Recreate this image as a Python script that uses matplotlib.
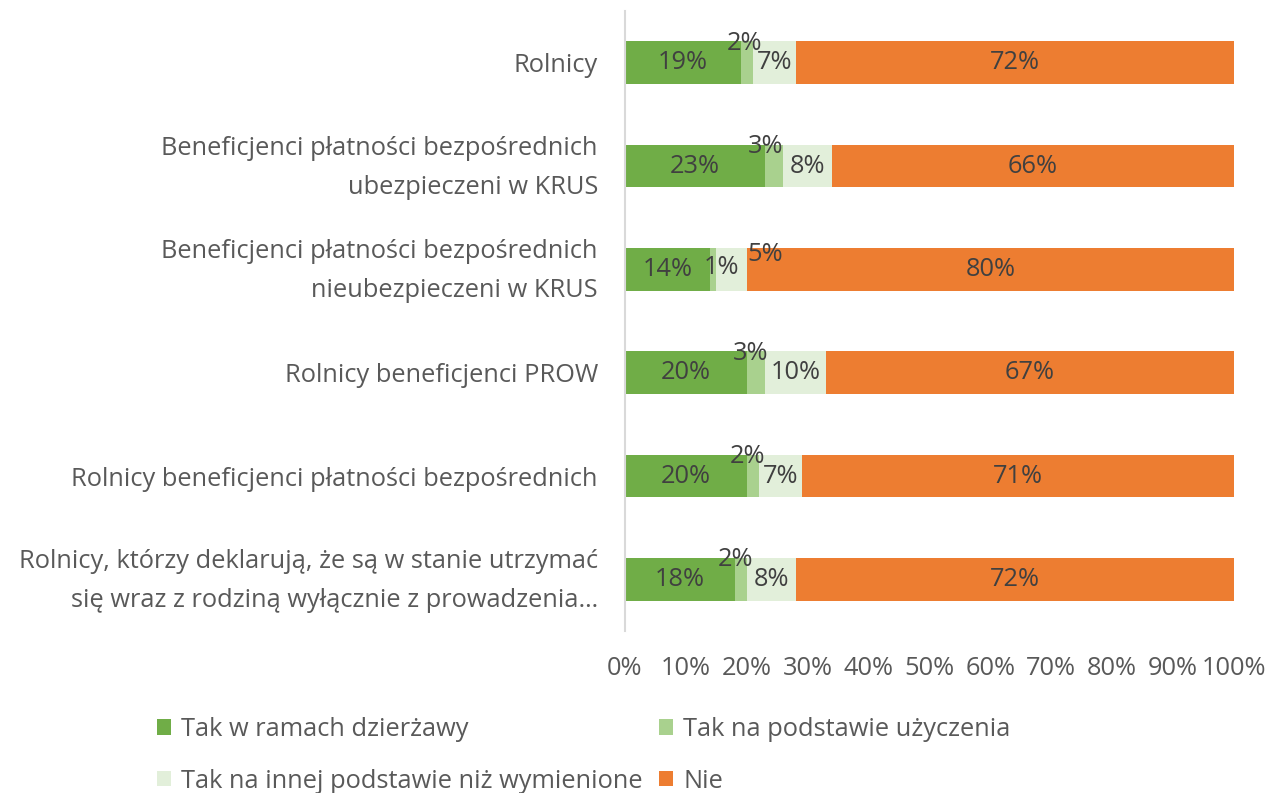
import matplotlib
matplotlib.use("Agg")
import matplotlib.pyplot as plt
import matplotlib.transforms as mtransforms
import numpy as np

plt.rcParams['font.family'] = ['Open Sans', 'DejaVu Sans']

categories = [
    "Rolnicy",
    "Beneficjenci płatności bezpośrednich\nubezpieczeni w KRUS",
    "Beneficjenci płatności bezpośrednich\nnieubezpieczeni w KRUS",
    "Rolnicy beneficjenci PROW",
    "Rolnicy beneficjenci płatności bezpośrednich",
    "Rolnicy, którzy deklarują, że są w stanie utrzymać\nsię wraz z rodziną wyłącznie z prowadzenia…",
]
series_names = ["Tak w ramach dzierżawy", "Tak na podstawie użyczenia",
                "Tak na innej podstawie niż wymienione", "Nie"]
dzierzawa = [19, 23, 14, 20, 20, 18]
uzyczenie = [2, 3, 1, 3, 2, 2]
inna = [7, 8, 5, 10, 7, 8]
nie = [72, 66, 80, 67, 71, 72]
xticks = [0, 10, 20, 30, 40, 50, 60, 70, 80, 90, 100]
xtick_labels = [f"{t}%" for t in xticks]

colors = ["#70AD47", "#A9D18E", "#E2EFDA", "#ED7D31"]
label_color = "#404040"
fs = 18.3

fig = plt.figure(figsize=(12.68, 7.93), dpi=100)
ax = fig.add_axes([625/1268, 1-631/793, 609/1268, 620/793])

series = [dzierzawa, uzyczenie, inna, nie]
y = np.arange(len(categories))
left = np.zeros(len(categories))
handles = []
# label offsets (points) for small segments
offsets = {
    (1, 0): (-2, 14), (1, 1): (-6, 14), (1, 2): (6, 1), (1, 3): (-4, 14), (1, 4): (-4, 14), (1, 5): (-4, 14),
    (2, 2): (24, 11),
}
for si, vals in enumerate(series):
    b = ax.barh(y, vals, left=left, height=0.41, color=colors[si], label=series_names[si])
    handles.append(b)
    for i, v in enumerate(vals):
        cx = left[i] + v / 2
        dx, dy = offsets.get((si, i), (0, 0))
        ax.annotate(f"{v}%", (cx, i), xytext=(dx, dy), textcoords="offset points",
                    ha="center", va="center", fontsize=fs, color=label_color)
    left = left + np.array(vals)

ax.set_xlim(0, 100)
ax.set_ylim(len(categories) - 0.5, -0.5)
ax.set_yticks(y)
ax.set_yticklabels([])
# category labels drawn as text next to the axis
blend = mtransforms.blended_transform_factory(ax.transAxes, ax.transData)
for i, cat in enumerate(categories):
    multi = "\n" in cat
    dy = -0.02 if multi else 0
    tr = blend + mtransforms.ScaledTranslation(-19.5 / 72, dy, fig.dpi_scale_trans)
    ax.text(0, i, cat, transform=tr, ha="right",
            va="center" if multi else "center_baseline", fontsize=fs,
            color="#595959", linespacing=1.72)
ax.set_xticks(xticks)
ax.set_xticklabels(xtick_labels, fontsize=fs, color="#595959")
ax.tick_params(axis='both', length=0)
ax.tick_params(axis='x', pad=18)
for s in ["top", "right", "bottom"]:
    ax.spines[s].set_visible(False)
ax.spines["left"].set_color("#D9D9D9")
ax.spines["left"].set_linewidth(1.5)

order = [0, 2, 1, 3]
fig.legend(handles=[handles[k] for k in order], labels=[series_names[k] for k in order],
           loc="upper left", bbox_to_anchor=(157/1268, 1-717/793), ncol=2, frameon=False,
           borderpad=0, borderaxespad=0,
           fontsize=fs, handlelength=0.55, handleheight=0.55, handletextpad=0.4,
           columnspacing=0.65, labelspacing=1.05, labelcolor="#595959")

fig.savefig("out.png", dpi=100)
